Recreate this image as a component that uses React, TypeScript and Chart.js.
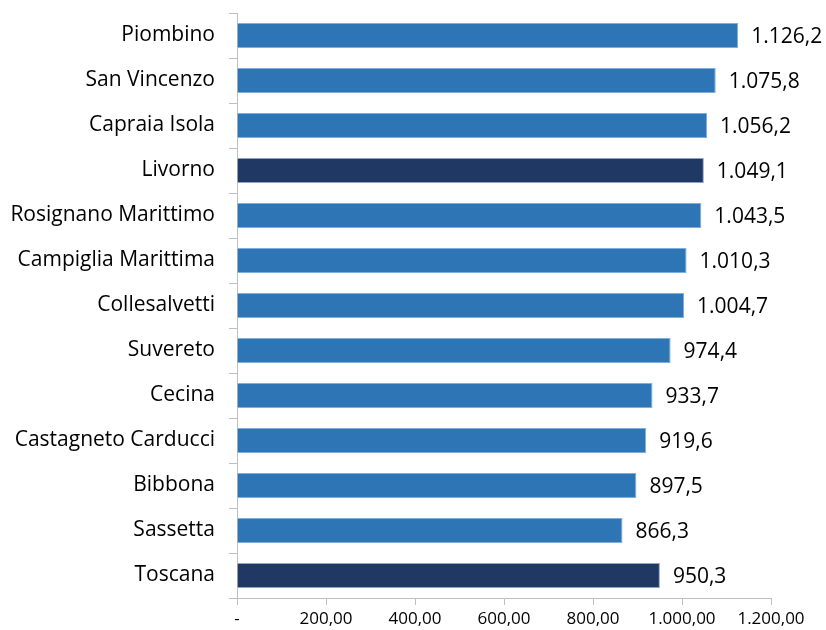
import React, { useEffect, useRef } from "react";
import { Chart, registerables } from "chart.js";

Chart.register(...registerables);

const categories = [
  "Piombino",
  "San Vincenzo",
  "Capraia Isola",
  "Livorno",
  "Rosignano Marittimo",
  "Campiglia Marittima",
  "Collesalvetti",
  "Suvereto",
  "Cecina",
  "Castagneto Carducci",
  "Bibbona",
  "Sassetta",
  "Toscana",
];
const values = [1126.2, 1075.8, 1056.2, 1049.1, 1043.5, 1010.3, 1004.7, 974.4, 933.7, 919.6, 897.5, 866.3, 950.3];
const highlighted = ["Livorno", "Toscana"];
const xTicks = [0, 200, 400, 600, 800, 1000, 1200];

const LIGHT = "#2E75B6";
const DARK = "#203864";
const FONT = "'Open Sans', Lato, sans-serif";

function fmt(v: number, dec: number): string {
  const s = v.toFixed(dec);
  const [i, d] = s.split(".");
  const ii = i.replace(/\B(?=(\d{3})+(?!\d))/g, ".");
  return d ? ii + "," + d : ii;
}

const labelPlugin = {
  id: "barLabels",
  afterDatasetsDraw(chart: any) {
    const ctx = chart.ctx;
    const meta = chart.getDatasetMeta(0);
    ctx.save();
    ctx.font = `21px ${FONT}`;
    ctx.fillStyle = "#000";
    ctx.textAlign = "left";
    ctx.textBaseline = "middle";
    meta.data.forEach((bar: any, i: number) => {
      ctx.fillText(fmt(values[i], 1), bar.x + 13, bar.y + 2);
    });
    ctx.restore();
  },
};

export default function App() {
  const ref = useRef<HTMLCanvasElement>(null);
  useEffect(() => {
    document.body.style.margin = "0";
    const chart = new Chart(ref.current!, {
      type: "bar",
      data: {
        labels: categories,
        datasets: [
          {
            data: values,
            backgroundColor: categories.map((c) => (highlighted.includes(c) ? DARK : LIGHT)),
            borderColor: categories.map((c) => (highlighted.includes(c) ? "#8FA3C8" : "#7FAEDC")),
            borderWidth: 1,
            barPercentage: 0.56,
            categoryPercentage: 1,
          },
        ],
      },
      options: {
        indexAxis: "y",
        animation: false,
        responsive: false,
        layout: { padding: { top: 13, right: 55, left: 0, bottom: 0 } },
        plugins: { legend: { display: false }, tooltip: { enabled: false } },
        scales: {
          x: {
            min: 0,
            max: 1200,
            afterBuildTicks: (scale: any) => {
              scale.ticks = xTicks.map((v) => ({ value: v }));
            },
            afterFit: (scale: any) => {
              scale.height = 32;
            },
            border: { display: true, color: "#BFBFBF", width: 1 },
            grid: { drawOnChartArea: false, drawTicks: true, tickLength: 7, color: "#BFBFBF" },
            ticks: {
              padding: 4,
              maxRotation: 0,
              autoSkip: false,
              color: "#000",
              font: { family: FONT, size: 17 },
              callback: (v: any) => (Number(v) === 0 ? "-" : fmt(Number(v), 2)),
            },
          },
          y: {
            afterFit: (scale: any) => {
              scale.width = 237;
              scale.paddingTop = 0;
              scale.paddingBottom = 0;
            },
            border: { display: true, color: "#BFBFBF", width: 1 },
            grid: { drawOnChartArea: false, drawTicks: true, tickLength: 8, color: "#BFBFBF", offset: true },
            ticks: {
              padding: 14,
              autoSkip: false,
              color: "#000",
              font: { family: FONT, size: 21 },
            },
          },
        },
      },
      plugins: [labelPlugin],
    });
    return () => chart.destroy();
  }, []);
  return (
    <div style={{ position: "absolute", left: 0, top: 0, width: 826, height: 630 }}>
      <canvas ref={ref} width={826} height={630} />
    </div>
  );
}
